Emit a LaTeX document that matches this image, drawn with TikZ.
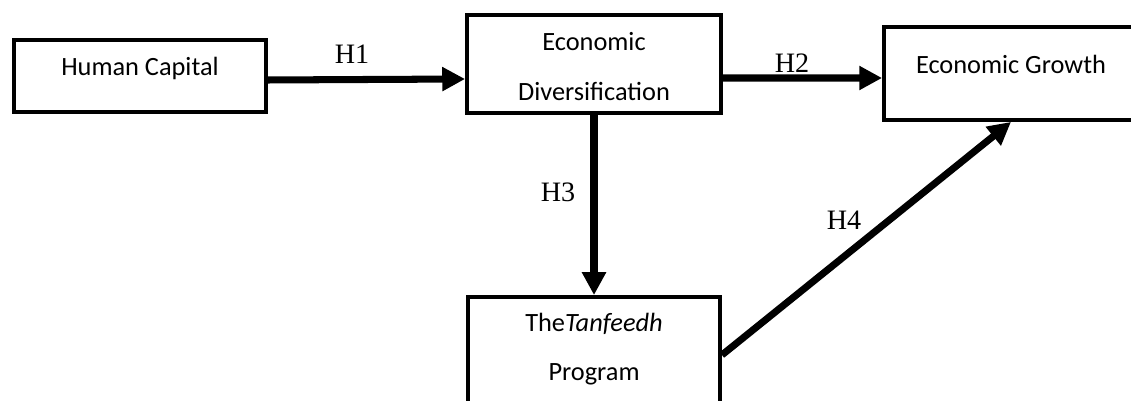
\documentclass[tikz,border=0pt]{standalone}
\usepackage{fontspec}
\setmainfont{Liberation Serif}
\newfontfamily\boxfont{Carlito}
\usetikzlibrary{arrows.meta,calc}

\begin{document}
\begin{tikzpicture}[x=0.02cm,y=-0.02cm,>={Triangle[length=13pt,width=13pt]},
  box/.style={draw,line width=2.2pt,align=center,inner sep=0pt,
    font=\boxfont\fontsize{15}{28}\selectfont,text height=11pt,text depth=11pt},
  arr/.style={->,line width=4pt},
  hlbl/.style={font=\fontsize{16}{19}\selectfont}]
\useasboundingbox (0,0) rectangle (1131,401);
\clip (0,0) rectangle (1131,401);
% variables
\node[box,minimum width=5.04cm,minimum height=1.44cm] (hc) at (140,76) {Human Capital};
\node[box,minimum width=5.08cm,minimum height=1.96cm,text height=41pt,text depth=0pt] (ed) at (594,64) {Economic\\Diversification};
\node[box,minimum width=5.08cm,minimum height=1.86cm] (eg) at (1011,73.5) {Economic Growth};
\node[box,minimum width=5.04cm,minimum height=2.32cm,text height=39pt,text depth=10pt] (tf) at (594,355) {The\textit{Tanfeedh}\\Program};
% hypotheses
\draw[arr] ($(hc.east)+(0,4)$) -- ($(ed.west)+(0,15)$);
\draw[arr] ($(ed.east)+(0,14)$) -- ($(eg.west)+(0,4.5)$);
\draw[arr] (ed.south) -- (tf.north);
\draw[arr] (tf.east) -- (eg.south);
\node[hlbl] (h1) at (352,54) {H1};
\node[hlbl] (h2) at (792,63) {H2};
\node[hlbl] (h3) at (558,192) {H3};
\node[hlbl] (h4) at (844,220) {H4};
\end{tikzpicture}
\end{document}
